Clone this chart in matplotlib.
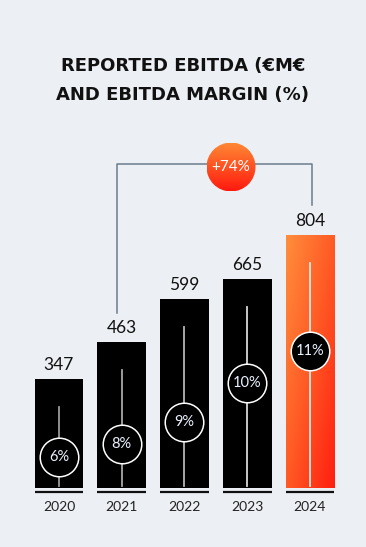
import matplotlib.pyplot as plt
import numpy as np
from matplotlib.patches import Circle
from matplotlib.colors import LinearSegmentedColormap

# data
years = ['2020', '2021', '2022', '2023', '2024']
ebitda = [347, 463, 599, 665, 804]
margins = ['6%', '8%', '9%', '10%', '11%']
growth_label = '+74%'
# where the margin bubble sits inside each bar (share of bar height)
circle_pos = [0.28, 0.30, 0.35, 0.50, 0.54]

bg = '#ECEFF3'
W, H = 366, 547

fig = plt.figure(figsize=(W / 100, H / 100), dpi=100, facecolor=bg)
ax = fig.add_axes([27.6 / W, (H - 488) / H, 313.75 / W, 441 / H])
ax.set_facecolor(bg)
ax.set_xlim(-0.5, 4.5)
ax.set_ylim(0, 1400)
ax.axis('off')

x = np.arange(len(years))
bw = 0.78
px = 0.315  # pixels per unit on y

colors = ['black'] * 4 + ['none']
bars = ax.bar(x, ebitda, width=bw, color=colors, zorder=2)

# gradient on the last bar
grad = np.linspace(0, 1, 200)
gx, gy = np.meshgrid(grad, grad[::-1])
g = (gx + (1 - gy)) / 2
cmap = LinearSegmentedColormap.from_list('og', ['#FF8E3C', '#FF5A25', '#FF1E10'])
last = bars[-1]
im = ax.imshow(g, cmap=cmap, extent=[x[-1] - bw / 2, x[-1] + bw / 2, 0, ebitda[-1]],
               aspect='auto', zorder=2)
im.set_clip_path(last)

line_cols = ['#9a9a9a', '#a8a8a8', '#b5b5b5', '#d8d8d8', '#f0e6e0']
for i, v in enumerate(ebitda):
    # inner line
    ax.plot([x[i], x[i]], [2 / px, v - 28 / px], color=line_cols[i], lw=1.3, zorder=3)
    cy = v * circle_pos[i]
    ax.scatter([x[i]], [cy], s=770, facecolor='black', edgecolor='white', lw=1.1, zorder=4)
    ax.text(x[i], cy, margins[i], ha='center', va='center', color='#EAF2FF',
            fontsize=10.5, family='Lato', zorder=5)
    # value label
    ax.text(x[i], v + 6 / px, str(v), ha='center', va='bottom', fontsize=12.5,
            family='Lato', color='#111111')
    # underline
    ax.plot([x[i] - bw / 2, x[i] + bw / 2], [-4 / px, -4 / px], color='#111111', lw=1.6,
            clip_on=False, solid_capstyle='butt')
    ax.text(x[i], -19 / px, years[i], ha='center', va='center', fontsize=10,
            family='Lato', color='#222222', clip_on=False)

# bracket
yb = (488 - 164) / px
xl = x[1] - 0.07
xr = x[4] + 0.04
ax.plot([xl, xl, xr, xr], [ebitda[1] + 29 / px, yb, yb, ebitda[4] + 30 / px],
        color='#6B7C8C', lw=1.1, zorder=1)

# growth bubble
bx, by, br = 231, 167, 24.5
bax = fig.add_axes([(bx - br) / W, (H - by - br) / H, 2 * br / W, 2 * br / H])
bax.axis('off')
bax.set_xlim(0, 1)
bax.set_ylim(0, 1)
vg = np.linspace(0, 1, 100)[:, None] * np.ones((1, 100))
bcmap = LinearSegmentedColormap.from_list('bub', ['#FF8A35', '#FF1A0E'])
bim = bax.imshow(vg, cmap=bcmap, extent=[0, 1, 0, 1], origin='upper', aspect='auto')
circ = Circle((0.5, 0.5), 0.5, transform=bax.transData)
bim.set_clip_path(circ)
bax.text(0.5, 0.5, growth_label, ha='center', va='center', color='white',
         fontsize=11, family='Lato')

fig.text(0.5, (H - 66) / H, 'REPORTED EBITDA (€M€', ha='center', va='center',
         fontsize=13, fontweight='bold', family='DejaVu Sans', color='#111111')
fig.text(0.5, (H - 95) / H, 'AND EBITDA MARGIN (%)', ha='center', va='center',
         fontsize=13, fontweight='bold', family='DejaVu Sans', color='#111111')

fig.savefig('out.png', dpi=100, facecolor=bg)
